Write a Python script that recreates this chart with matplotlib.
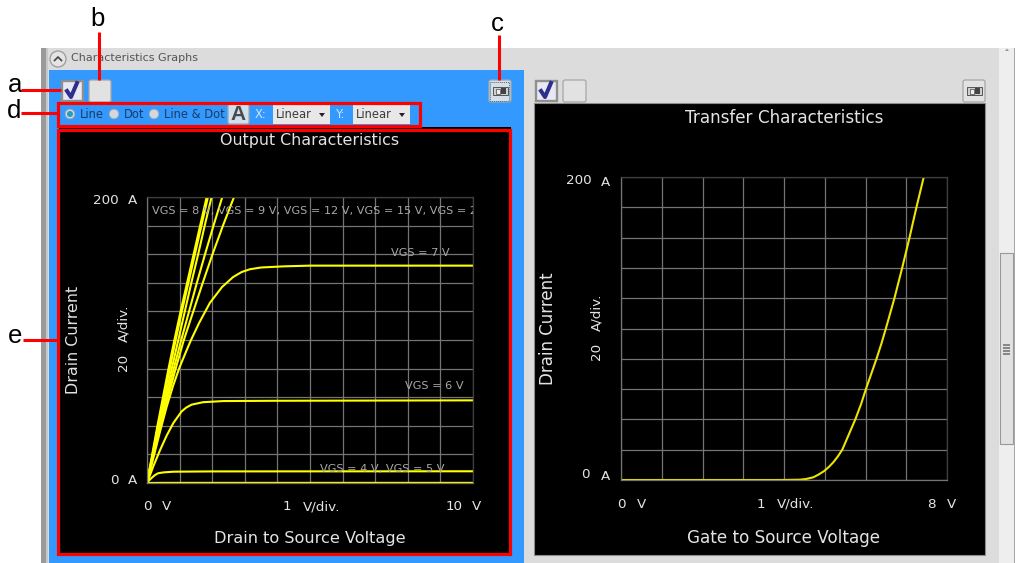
import matplotlib
matplotlib.use("Agg")
import matplotlib.pyplot as plt
from matplotlib.patches import Rectangle, Circle, FancyBboxPatch, Polygon

W, H = 1018, 563

# --- Output characteristics ---
id_steep = [0, 20, 40, 60, 80, 100, 120, 140, 160, 180, 200]
vds_8 = [0, 0.2, 0.42, 0.64, 0.88, 1.13, 1.42, 1.71, 2.01, 2.33, 2.67]
vds_9 = [0, 0.19, 0.39, 0.6, 0.82, 1.05, 1.29, 1.53, 1.78, 2.04, 2.31]
vds_12 = [0, 0.18, 0.37, 0.56, 0.76, 0.96, 1.16, 1.36, 1.57, 1.77, 1.98]
vds_15 = [0, 0.17, 0.34, 0.52, 0.7, 0.88, 1.07, 1.27, 1.47, 1.67, 1.87]
vds_20 = [0, 0.16, 0.32, 0.49, 0.66, 0.84, 1.03, 1.23, 1.43, 1.63, 1.83]
vds_7 = [0, 0.2, 0.4, 0.6, 0.8, 1.0, 1.2, 1.35, 1.6, 1.93, 2.3, 2.64, 2.9, 3.16, 3.5, 4.2, 5, 10]
id_7 = [0, 18, 36, 53, 68, 81, 92, 100, 112, 126, 137, 144, 147.5, 149.5, 150.7, 151.5, 152, 152]
vds_6 = [0, 0.2, 0.4, 0.6, 0.81, 1.06, 1.2, 1.37, 1.72, 2.34, 4, 10]
id_6 = [0, 12, 23, 33, 42, 50, 52.7, 54.8, 56.5, 57.3, 57.5, 57.8]
vds_5 = [0, 0.07, 0.14, 0.24, 0.34, 0.5, 0.8, 2, 10]
id_5 = [0, 2, 3.5, 5.5, 6.8, 7.4, 7.9, 8.1, 8.2]
vds_4 = [0, 0.5, 10]
id_4 = [0, 0.1, 0.1]
output_curves = [(vds_4, id_4), (vds_5, id_5), (vds_6, id_6), (vds_7, id_7), (vds_8, id_steep),
                 (vds_9, id_steep), (vds_12, id_steep), (vds_15, id_steep), (vds_20, id_steep)]

# --- Transfer characteristics ---
vgs = [0, 3.9, 4.39, 4.55, 4.72, 4.85, 4.99, 5.1, 5.21, 5.32, 5.43, 5.59, 5.75, 5.89, 6.01, 6.14,
       6.27, 6.39, 6.5, 6.71, 6.9, 7.08, 7.25, 7.43]
id_t = [0, 0, 0.2, 0.7, 1.8, 3.6, 6, 8.6, 11.7, 15.5, 20, 30, 40, 50, 60, 70,
        80, 90, 100, 120, 140, 160, 180, 200]

vgs_labels = [("VGS = 8 V, VGS = 9 V, VGS = 12 V, VGS = 15 V, VGS = 20 V", 0.15, 190),
              ("VGS = 7 V", 7.48, 160.5),
              ("VGS = 6 V", 7.92, 68),
              ("VGS = 4 V, VGS = 5 V", 5.3, 9.5)]

fig = plt.figure(figsize=(W / 100, H / 100), dpi=100, facecolor="white")
ui = fig.add_axes([0, 0, 1, 1])
ui.set_xlim(0, W)
ui.set_ylim(H, 0)
ui.axis("off")

BLUE = "#3399FF"
GREY = "#DCDCDC"
RED = "#FF0000"
TXT = "#E4E4E4"
NAVY = "#1C3A60"


def box(x0, y0, x1, y1, fc, ec="none", lw=0, z=1):
    ui.add_patch(Rectangle((x0, y0), x1 - x0, y1 - y0, fc=fc, ec=ec, lw=lw, zorder=z))


def label(x, y, s, size=9.7, color=TXT, ha="center", rot=0, family="DejaVu Sans", weight="normal"):
    ui.text(x, y, s, fontsize=size, color=color, ha=ha, va="center", rotation=rot,
            family=family, weight=weight, zorder=6)


def button(x0, y0, x1, y1, fc="#E2E2E2"):
    ui.add_patch(FancyBboxPatch((x0 + 2, y0 + 2), x1 - x0 - 4, y1 - y0 - 4,
                                boxstyle="round,pad=2", fc=fc, ec="#A6A6A6", lw=0.9, zorder=4))


def checkbox(x0, y0):
    box(x0 + 1, y0 + 1, x0 + 22, y0 + 21, "#E8E8F4", "#8F8F8F", 1.7, 4)
    ui.plot([x0 + 6, x0 + 10, x0 + 16], [y0 + 11, y0 + 17, y0 + 3], color="#2E2E8C", lw=2.9, zorder=5)


def camera(x0, y0, focus=False):
    button(x0, y0, x0 + 22, y0 + 22, "#D6DEE6" if focus else "#E2E2E2")
    box(x0 + 4, y0 + 7, x0 + 19, y0 + 15, "#CFCFCF", "#555555", 0.7, 5)
    box(x0 + 12, y0 + 8, x0 + 17, y0 + 14, "#444444", z=6)
    box(x0 + 7, y0 + 9, x0 + 11, y0 + 14, "#EFEFEF", "#444444", 0.5, 6)
    if focus:
        ui.add_patch(Rectangle((x0 + 1.5, y0 + 1.5), 19, 19, fc="none", ec="#2C6FA8", lw=0.7,
                               ls=(0, (1, 1)), zorder=6))


def combo(x0, x1, s):
    box(x0, 104, x1, 124, "#E8E8E8", z=4)
    label(x0 + 3, 114, s, 8.3, "#3C3C3C", "left")
    ui.add_patch(Polygon([(x1 - 11, 113), (x1 - 5, 113), (x1 - 8, 117)], fc="#222222", zorder=6))


def radio(x, y, s, on=False):
    ui.add_patch(Circle((x, y), 4.8, fc="#D4D8DC", ec="#9AA6B2", lw=0.6, zorder=5))
    if on:
        ui.add_patch(Circle((x, y), 3, fc="#2A9BB8", zorder=6))
    label(x + 10, y, s, 8.3, NAVY, "left")


def curve_axes(x0, y0, x1, y1, xmax):
    ax = fig.add_axes([x0 / W, 1 - y1 / H, (x1 - x0) / W, (y1 - y0) / H], facecolor="black")
    ax.set_xlim(0, xmax)
    ax.set_ylim(0, 200)
    ax.set_xticks(range(xmax + 1))
    ax.set_yticks(range(0, 201, 20))
    ax.grid(True, color="#747474", lw=0.9)
    ax.set_axisbelow(True)
    ax.tick_params(length=0, labelbottom=False, labelleft=False)
    for s in ax.spines.values():
        s.set_color("#747474")
        s.set_linewidth(0.9)
    ax.spines["top"].set_color("#3E3E3E")
    ax.spines["right"].set_color("#3E3E3E")
    return ax


# --- Window background ---
box(41, 48, 1015, H, GREY)
box(41, 48, 48, H, "#9A9A9A")
box(46, 48, 48, H, "#C8C8C8", z=2)
box(999, 48, 1014, H, "#EEEEEE")
box(1000.5, 253, 1013, 444, "#E2E2E2", "#999999", 0.8, 2)
for yy in (344, 347, 350, 353):
    box(1003, yy, 1010, yy + 1.5, "#888888", z=3)
ui.add_patch(Polygon([(1005, 51), (1009, 51), (1007, 48.5)], fc="#999999", zorder=3))
box(1014, 48, 1015.5, H, "#A8A8A8", z=3)

# --- Header ---
ui.add_patch(Circle((58, 59), 8, fc="#E4E4E4", ec="#9A9A9A", lw=0.9, zorder=3))
ui.plot([54.5, 58, 61.5], [60.5, 57, 60.5], color="#444444", lw=1.2, zorder=4)
label(71, 58, "Characteristics Graphs", 8.0, "#555555", "left")

# --- Left panel ---
box(49, 70, 524, H, BLUE)
box(59, 127, 511, 554, "black", z=2)
checkbox(61, 80)
button(89, 80, 111, 102)
camera(489, 80, True)
radio(70, 114, "Line", True)
radio(114, 114, "Dot")
radio(154, 114, "Line & Dot")
button(228, 104, 249, 124, "#CFE0EE")
label(238.5, 114.5, "A", 15, "#4A4A4A", family="Liberation Sans", weight="bold")
label(255, 114, "X:", 8.3, "#CFE6FF", "left")
combo(273, 330, "Linear")
label(336, 114, "Y:", 8.3, "#CFE6FF", "left")
combo(353, 410, "Linear")

label(310, 140, "Output Characteristics", 11.4)
label(310, 539, "Drain to Source Voltage", 11.6)
label(74, 340, "Drain Current", 11.4, rot=90)
label(124, 323, "A/div.", rot=90)
label(124, 362, "20", rot=90)
label(119, 201, "200", ha="right")
label(128, 201, "A", ha="left")
label(119, 480, "0", ha="right")
label(128, 480, "A", ha="left")
label(143, 507, "0", ha="left")
label(162, 507, "V", ha="left")
label(283, 507, "1", ha="left")
label(303, 507, "V/div.", ha="left")
label(446, 507, "10", ha="left")
label(472, 507, "V", ha="left")

# --- Right panel ---
box(534, 103, 985, 555, "black", "#8C8C8C", 0.8, 2)
checkbox(535, 80)
button(563, 80, 586, 102)
camera(963, 80)

label(784, 118, "Transfer Characteristics", 12.1)
label(784, 538, "Gate to Source Voltage", 12.1)
label(548, 329, "Drain Current", 12.0, rot=90)
label(597, 312, "A/div.", rot=90)
label(597, 351, "20", rot=90)
label(592, 181, "200", ha="right")
label(601, 182, "A", ha="left")
label(590, 475, "0", ha="right")
label(601, 476, "A", ha="left")
label(617, 504, "0", ha="left")
label(637, 504, "V", ha="left")
label(757, 504, "1", ha="left")
label(777, 504, "V/div.", ha="left")
label(927, 504, "8", ha="left")
label(947, 504, "V", ha="left")

# --- Curves ---
ax1 = curve_axes(147, 197, 473, 483, 10)
for xs, ys in output_curves:
    ax1.plot(xs, ys, color="#FFFF00", lw=1.5, solid_joinstyle="round")
for s, x, y in vgs_labels:
    ax1.text(x, y, s, fontsize=8.15, color="#A8A8A8", va="center", clip_on=True, zorder=5)

ax2 = curve_axes(621, 177, 947, 480, 8)
ax2.plot(vgs, id_t, color="#EDE400", lw=1.5)

# --- Red callouts ---
for (x0, y0, x1, y1) in [(58, 129.5, 510, 553.5), (58, 102.5, 420.5, 126)]:
    ui.add_patch(Rectangle((x0, y0), x1 - x0, y1 - y0, fc="none", ec=RED, lw=2.3, zorder=7))
for xs, ys in [([21, 61], [90, 90]), ([21, 57], [113, 113]), ([23, 57], [340, 340]),
               ([99, 99], [32, 80]), ([499, 499], [35, 80])]:
    ui.plot(xs, ys, color=RED, lw=2.2, zorder=7, solid_capstyle="butt")
for x, y, s in [(15, 85, "a"), (98, 19, "b"), (497, 24, "c"), (14, 111, "d"), (15, 336, "e")]:
    label(x, y, s, 18.5, "black", family="Liberation Sans")

fig.savefig("out.png", dpi=100)
